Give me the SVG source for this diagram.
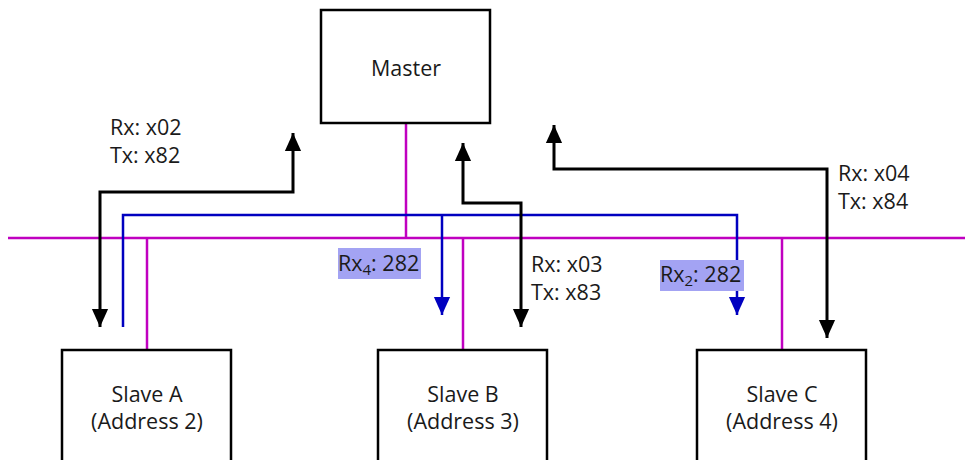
<svg xmlns="http://www.w3.org/2000/svg" width="965" height="460" viewBox="0 0 965 460">
  <style>
    .box { fill: #ffffff; stroke: #000000; stroke-width: 2.5; }
    .lbl { font-family: "Open Sans", "DejaVu Sans", sans-serif; font-size: 21.5px; fill: #1a1a1a; }
    .mid { text-anchor: middle; }
    .bus { fill: none; stroke: #c000c0; stroke-width: 2.5; }
    .blk { fill: none; stroke: #000000; stroke-width: 3; }
    .blu { fill: none; stroke: #0000c0; stroke-width: 2.5; }
    .hl { fill: #a3a3f3; }
  </style>
  <defs>
    <marker id="ah-black" markerUnits="userSpaceOnUse" markerWidth="18" markerHeight="20" viewBox="0 0 20 18" refX="20" refY="9" orient="auto-start-reverse">
      <path d="M0,0 L20,9 L0,18 Z" fill="#000000"/>
    </marker>
    <marker id="ah-blue" markerUnits="userSpaceOnUse" markerWidth="18" markerHeight="20" viewBox="0 0 20 18" refX="20" refY="9" orient="auto">
      <path d="M0,0 L20,9 L0,18 Z" fill="#0000c0"/>
    </marker>
  </defs>

  <!-- shared bus and drops -->
  <g id="connectors">
    <path class="bus" d="M8,238 H965"/>
    <path class="bus" d="M406,123 V238"/>
    <path class="bus" d="M147,238 V350"/>
    <path class="bus" d="M463,238 V350"/>
    <path class="bus" d="M782,238 V350"/>

    <!-- broadcast from Slave A -->
    <path class="blu" d="M123,327 V215 H737 V315" marker-end="url(#ah-blue)"/>
    <path class="blu" d="M442,215 V315" marker-end="url(#ah-blue)"/>

    <!-- master / slave exchanges, arrowheads at both ends -->
    <path class="blk" d="M293,133 V192 H100 V327" marker-start="url(#ah-black)" marker-end="url(#ah-black)"/>
    <path class="blk" d="M463,143 V203 H521 V327" marker-start="url(#ah-black)" marker-end="url(#ah-black)"/>
    <path class="blk" d="M554,125 V169 H827 V338" marker-start="url(#ah-black)" marker-end="url(#ah-black)"/>
  </g>

  <g id="master">
    <rect class="box" x="321" y="10" width="169" height="113"/>
    <text class="lbl mid" x="406" y="76">Master</text>
  </g>

  <g id="slave-a">
    <rect class="box" x="62" y="350" width="169" height="120"/>
    <text class="lbl mid" x="147" y="402">Slave A</text>
    <text class="lbl mid" x="147" y="429">(Address 2)</text>
  </g>

  <g id="slave-b">
    <rect class="box" x="378" y="350" width="169" height="120"/>
    <text class="lbl mid" x="463" y="402">Slave B</text>
    <text class="lbl mid" x="463" y="429">(Address 3)</text>
  </g>

  <g id="slave-c">
    <rect class="box" x="697" y="350" width="169" height="120"/>
    <text class="lbl mid" x="782" y="402">Slave C</text>
    <text class="lbl mid" x="782" y="429">(Address 4)</text>
  </g>

  <g id="labels">
    <text class="lbl" x="110" y="135">Rx: x02</text>
    <text class="lbl" x="110" y="163">Tx: x82</text>
    <text class="lbl" x="531" y="272">Rx: x03</text>
    <text class="lbl" x="531" y="300">Tx: x83</text>
    <text class="lbl" x="838" y="181">Rx: x04</text>
    <text class="lbl" x="838" y="209">Tx: x84</text>

    <rect class="hl" x="338" y="248" width="83" height="31"/>
    <text class="lbl" x="338" y="271">Rx<tspan font-size="15" dy="4">4</tspan><tspan dy="-4">: 282</tspan></text>

    <rect class="hl" x="660" y="260" width="84" height="31"/>
    <text class="lbl" x="660" y="282">Rx<tspan font-size="15" dy="4">2</tspan><tspan dy="-4">: 282</tspan></text>
  </g>
</svg>
